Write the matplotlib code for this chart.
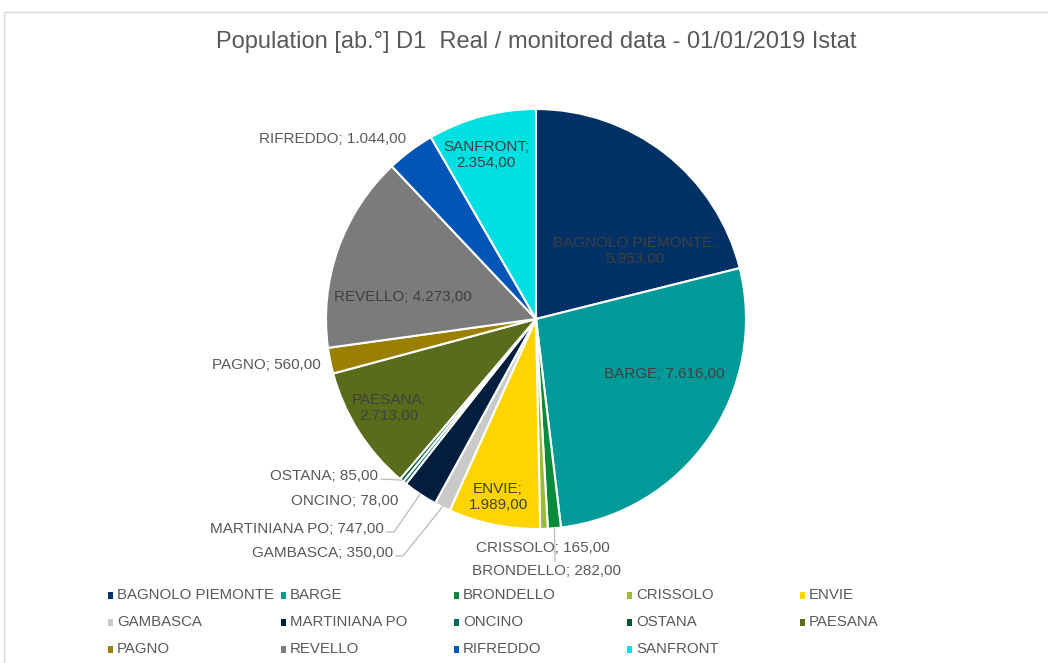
import matplotlib
matplotlib.use('Agg')
import matplotlib.pyplot as plt
from matplotlib.patches import Rectangle
import numpy as np

plt.rcParams['font.family'] = ['Liberation Sans', 'DejaVu Sans']

# data
comuni = ['BAGNOLO PIEMONTE', 'BARGE', 'BRONDELLO', 'CRISSOLO', 'ENVIE',
          'GAMBASCA', 'MARTINIANA PO', 'ONCINO', 'OSTANA', 'PAESANA',
          'PAGNO', 'REVELLO', 'RIFREDDO', 'SANFRONT']
abitanti = [5953, 7616, 282, 165, 1989, 350, 747, 78, 85, 2713, 560, 4273, 1044, 2354]
colori = ['#023165', '#009B99', '#0A8B3B', '#9BBB38', '#FFD400',
          '#C9C9C9', '#011E3E', '#006660', '#00562E', '#5A6B1B',
          '#9A7F00', '#7B7B7B', '#0155B6', '#00DFE2']

W, H = 1048, 663
CX, CY, R = 536, 319, 210


def fmt_it(v):
    s = f'{v:,.2f}'
    return s.replace(',', 'X').replace('.', ',').replace('X', '.')


# label placement (image pixels, y down): (x, y, ha, wrap, inside)
lab_pos = {
    'BAGNOLO PIEMONTE': (635, 251, 'center', True, True),
    'BARGE': (664, 374, 'center', False, True),
    'BRONDELLO': (546, 571, 'center', False, False),
    'CRISSOLO': (543, 548, 'center', False, False),
    'ENVIE': (498, 497, 'center', True, True),
    'GAMBASCA': (393, 553, 'right', False, False),
    'MARTINIANA PO': (384, 529, 'right', False, False),
    'ONCINO': (398, 501, 'right', False, False),
    'OSTANA': (378, 476, 'right', False, False),
    'PAESANA': (389, 408, 'center', True, True),
    'PAGNO': (321, 365, 'right', False, False),
    'REVELLO': (403, 297, 'center', False, True),
    'RIFREDDO': (333, 139, 'center', False, False),
    'SANFRONT': (486, 155, 'center', True, True),
}
# leader lines: label end point (image px) and elbow
leaders = {
    'OSTANA': [(381, 479), (400, 480)],
    'MARTINIANA PO': [(387, 532), (394, 532)],
    'GAMBASCA': [(396, 556), (403, 556)],
    'BRONDELLO': [(555, 561)],
}

fig = plt.figure(figsize=(W / 100, H / 100), dpi=100)
ax = fig.add_axes([0, 0, 1, 1])

wedges, _ = ax.pie(abitanti, colors=colori, startangle=90, counterclock=False,
                   center=(CX, H - CY), radius=R,
                   wedgeprops=dict(edgecolor='white', linewidth=1.5))
ax.set_xlim(0, W)
ax.set_ylim(0, H)
ax.set_aspect('equal')
ax.axis('off')

for w, name, v in zip(wedges, comuni, abitanti):
    x, y, ha, wrap, inside = lab_pos[name]
    sep = ';\n' if wrap else '; '
    ax.text(x, H - y, name + sep + fmt_it(v), ha=ha, va='center',
            fontsize=11, linespacing=1.12,
            color='#404040' if inside else '#595959')
    if name in leaders:
        mid = np.deg2rad((w.theta1 + w.theta2) / 2)
        ex = CX + R * np.cos(mid)
        ey = (H - CY) + R * np.sin(mid)
        pts = [(px, H - py) for px, py in leaders[name]] + [(ex, ey)]
        ax.plot([p[0] for p in pts], [p[1] for p in pts], color='#BFBFBF', lw=1.0)

# title
fig.text(CX / W, 1 - 42 / H, 'Population [ab.°] D1  Real / monitored data - 01/01/2019 Istat',
         ha='center', va='center', fontsize=17, color='#595959')

# legend, 5 columns
for i, (name, c) in enumerate(zip(comuni, colori)):
    row, col = divmod(i, 5)
    lx = 108 + 173 * col
    ly = 595 + 27 * row
    fig.patches.append(Rectangle((lx / W, 1 - (ly + 3.5) / H), 5 / W, 7 / H,
                                 transform=fig.transFigure, facecolor=c, edgecolor='none'))
    fig.text((lx + 9) / W, 1 - ly / H, name, ha='left', va='center',
             fontsize=10.8, color='#595959')

# chart frame
fig.patches.append(Rectangle((4 / W, -0.1), 1.2, 1 - 12 / H + 0.1,
                             transform=fig.transFigure, facecolor='none',
                             edgecolor='#D9D9D9', linewidth=1.0))

fig.savefig('out.png', dpi=100, facecolor='white')
